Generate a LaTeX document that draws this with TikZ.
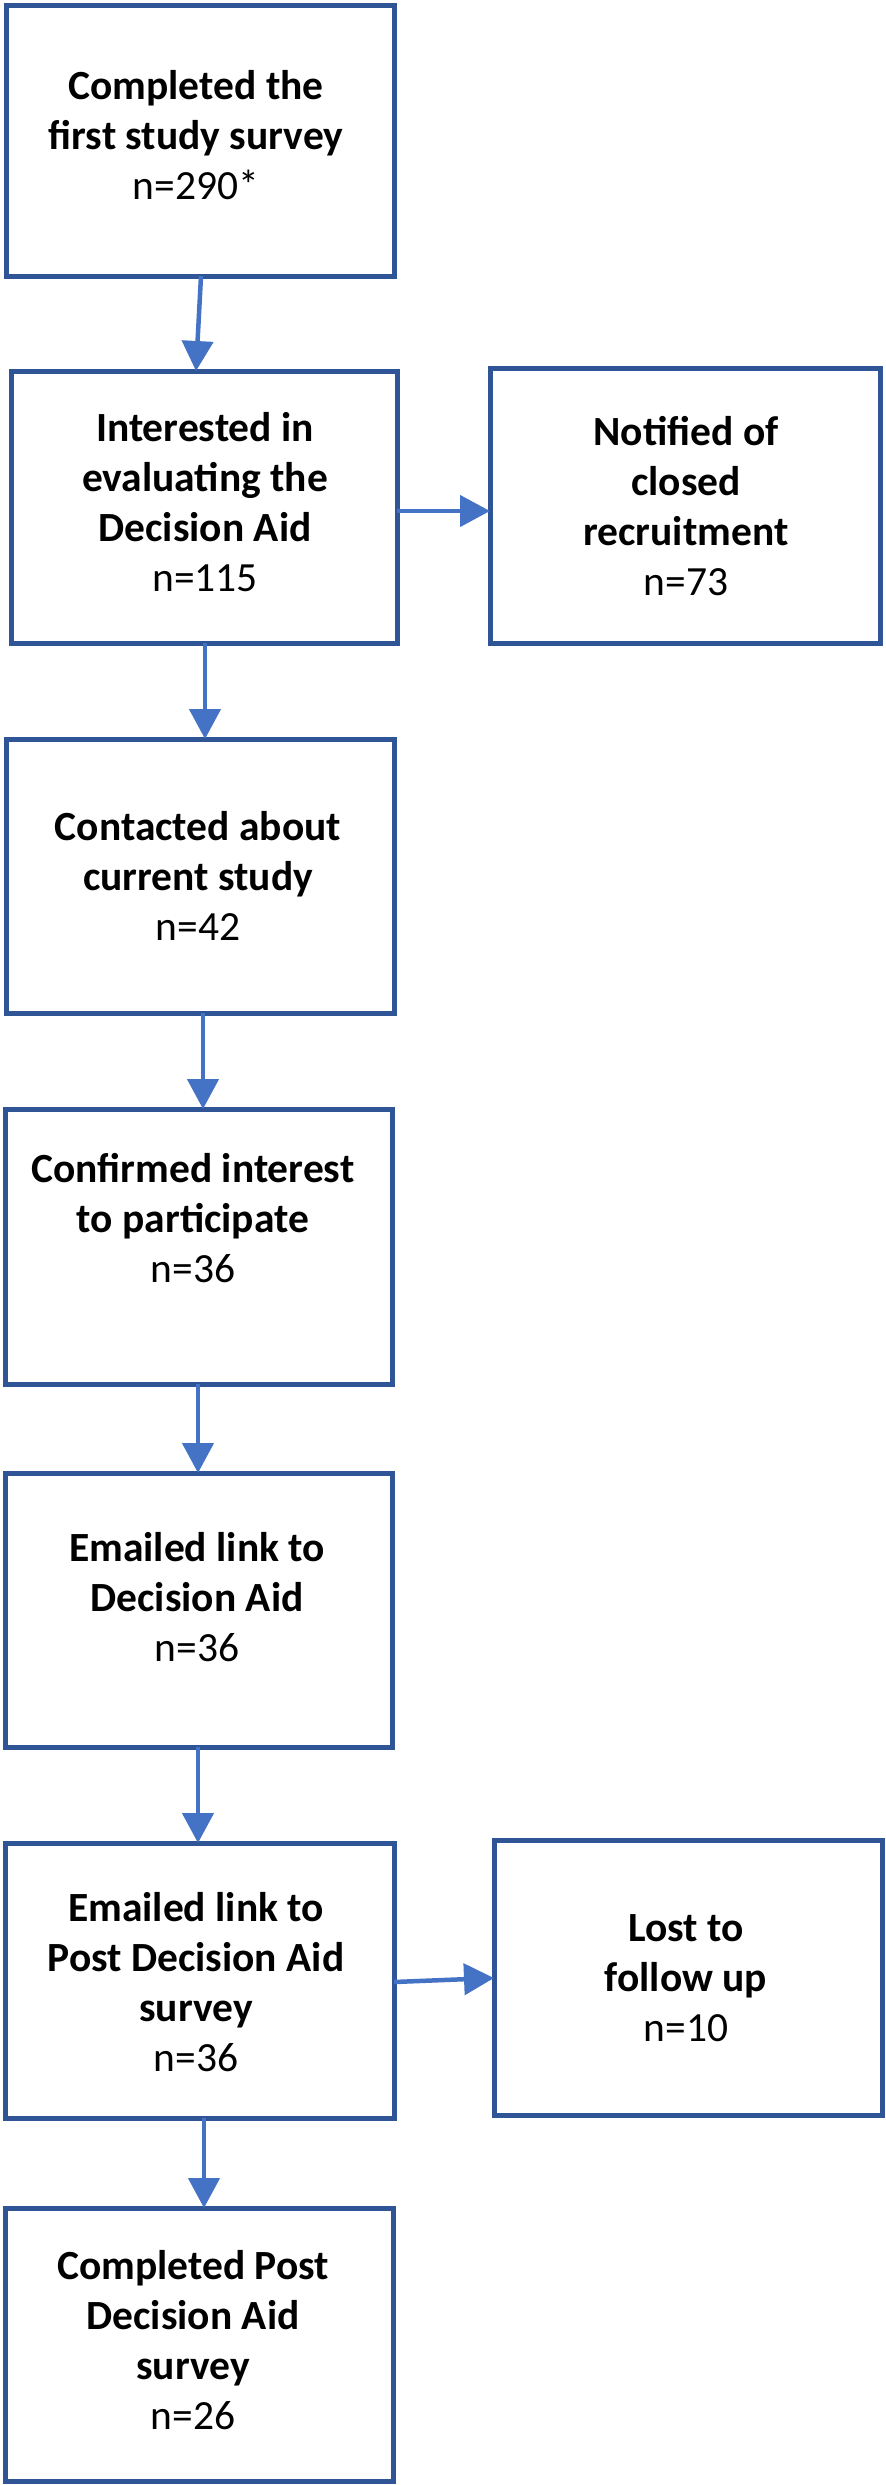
\documentclass[tikz,border=0pt]{standalone}
\usepackage{fontspec}
\setmainfont{Carlito}
\usetikzlibrary{arrows.meta}
\definecolor{boxblue}{HTML}{2F5597}
\definecolor{arrblue}{HTML}{4472C4}
\tikzset{
  x=1pt, y=-1pt,
  flowbox/.style={draw=boxblue, line width=5pt, fill=none, inner sep=0pt, outer sep=0pt},
  flowtext/.style={align=center, inner sep=0pt, font=\fontsize{41.5}{50}\selectfont\bfseries},
  flowarrow/.style={draw=arrblue, line width=4.5pt, -{Triangle[length=30pt,width=31pt]}}
}
\begin{document}
\begin{tikzpicture}
\useasboundingbox (0,0) rectangle (886,2485);
% boxes
\node[flowbox, minimum width=388pt, minimum height=271pt] (b1) at (200,140.5) {};
\node[flowbox, minimum width=386pt, minimum height=272pt] (b2) at (204,507) {};
\node[flowbox, minimum width=390pt, minimum height=275pt] (b3) at (685,505.5) {};
\node[flowbox, minimum width=388pt, minimum height=274pt] (b4) at (200,876) {};
\node[flowbox, minimum width=387pt, minimum height=275pt] (b5) at (198.5,1246.5) {};
\node[flowbox, minimum width=387pt, minimum height=274pt] (b6) at (198.5,1610) {};
\node[flowbox, minimum width=389pt, minimum height=275pt] (b7) at (199.5,1980.5) {};
\node[flowbox, minimum width=388pt, minimum height=275pt] (b8) at (688,1977.5) {};
\node[flowbox, minimum width=388pt, minimum height=273pt] (b9) at (199,2344.5) {};
% texts
\node[flowtext] (t1) at (196,135) {Completed the\\first study survey\\{\mdseries n=290*}};
\node[flowtext] (t2) at (205,502) {Interested in\\evaluating the\\Decision Aid\\{\mdseries n=115}};
\node[flowtext] (t3) at (686,506) {Notified of\\closed\\recruitment\\{\mdseries n=73}};
\node[flowtext] (t4) at (198,876) {Contacted about\\current study\\{\mdseries n=42}};
\node[flowtext] (t5) at (193,1218) {Confirmed interest\\to participate\\{\mdseries n=36}};
\node[flowtext] (t6) at (197,1597) {Emailed link to\\Decision Aid\\{\mdseries n=36}};
\node[flowtext] (t7) at (196,1982) {Emailed link to\\Post Decision Aid\\survey\\{\mdseries n=36}};
\node[flowtext] (t8) at (686,1978) {Lost to\\follow up\\{\mdseries n=10}};
\node[flowtext] (t9) at (193,2340) {Completed Post\\Decision Aid\\survey\\{\mdseries n=26}};
% connectors
\draw[flowarrow] ([xshift=1pt]b1.south) -- ([xshift=-8pt]b2.north);
\draw[flowarrow] ([xshift=1pt]b2.south) -- ([xshift=5pt]b4.north);
\draw[flowarrow] ([xshift=3pt]b4.south) -- ([xshift=4.5pt]b5.north);
\draw[flowarrow] ([xshift=-0.5pt]b5.south) -- ([xshift=-0.5pt]b6.north);
\draw[flowarrow] ([xshift=-0.5pt]b6.south) -- ([xshift=-1.5pt]b7.north);
\draw[flowarrow] ([xshift=4.5pt]b7.south) -- ([xshift=5pt]b9.north);
\draw[flowarrow] ([yshift=-4pt]b2.east) -- ([yshift=-5.5pt]b3.west);
\draw[flowarrow] ([yshift=-1.5pt]b7.east) -- ([yshift=-0.5pt]b8.west);
\end{tikzpicture}
\end{document}
